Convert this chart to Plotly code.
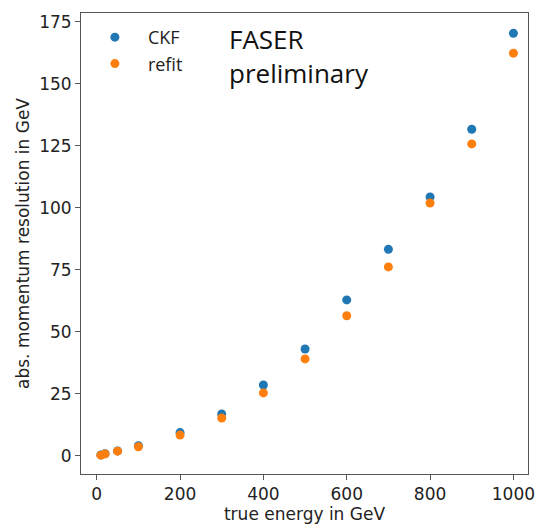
import plotly.graph_objects as go

energy = [10, 20, 50, 100, 200, 300, 400, 500, 600, 700, 800, 900, 1000]
ckf = [0.4, 0.9, 2.0, 4.1, 9.4, 16.9, 28.6, 43.1, 62.9, 83.3, 104.4, 131.7, 170.4]
refit = [0.3, 0.8, 1.9, 3.7, 8.4, 15.3, 25.4, 39.1, 56.5, 76.2, 102.0, 125.8, 162.4]

blue = "#1f77b4"
orange = "#ff7f0e"

fig = go.Figure()
fig.add_trace(go.Scatter(x=energy, y=ckf, mode="markers", name="CKF",
                         marker=dict(color=blue, size=9)))
fig.add_trace(go.Scatter(x=energy, y=refit, mode="markers", name="refit",
                         marker=dict(color=orange, size=9)))

axis_common = dict(showgrid=False, zeroline=False, showline=True, linecolor="#555555",
                   linewidth=1, mirror=True, ticks="outside", ticklen=5, tickcolor="#555555",
                   ticklabeloverflow="allow", automargin=False,
                   tickfont=dict(family="DejaVu Sans", size=17, color="#222222"))

fig.update_layout(
    width=535, height=524,
    margin=dict(l=81, r=7, t=13, b=50),
    paper_bgcolor="white", plot_bgcolor="white",
    xaxis=dict(range=[-37.7, 1035], tickvals=[0, 200, 400, 600, 800, 1000],
               title=dict(text="true energy in GeV", standoff=8,
                          font=dict(family="DejaVu Sans", size=17, color="#222222")),
               **axis_common),
    yaxis=dict(range=[-7.3, 178.6], tickvals=[0, 25, 50, 75, 100, 125, 150, 175],
               title=dict(text="abs. momentum resolution in GeV", standoff=5,
                          font=dict(family="DejaVu Sans", size=17, color="#222222")),
               **axis_common),
    legend=dict(x=0.002, y=0.987, xanchor="left", yanchor="top",
                bgcolor="rgba(0,0,0,0)", font=dict(family="Open Sans", size=18, color="#222222"),
                itemwidth=56),
    annotations=[dict(text="FASER<br>preliminary", x=0.327, y=0.987, xref="paper", yref="paper",
                      xanchor="left", yanchor="top", showarrow=False, align="left",
                      font=dict(family="Open Sans", size=26, color="#111111"))],
)

fig.write_html("out.html")
